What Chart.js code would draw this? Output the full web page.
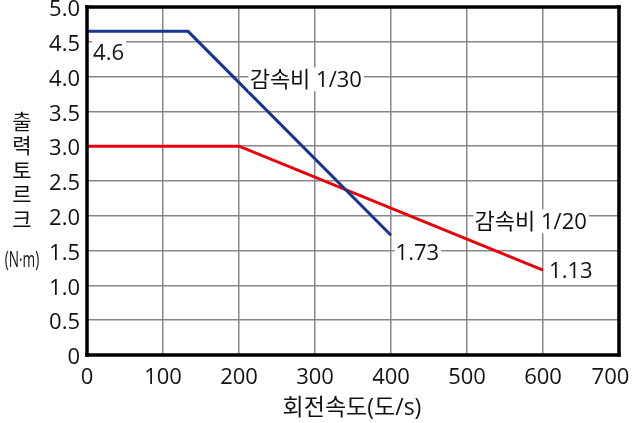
<!DOCTYPE html>
<html>
<head>
<meta charset="utf-8">
<script src="https://cdn.jsdelivr.net/npm/chart.js@4"></script>
<style>
  html, body { margin: 0; padding: 0; background: #fff; }
  #wrap { width: 634px; height: 423px; }
</style>
</head>
<body>
<div id="wrap"><canvas id="chart" width="634" height="423"></canvas></div>
<script>
// Data
const ratio30Speed = [0, 133, 400];
const ratio30Torque = [4.65, 4.65, 1.72];
const ratio20Speed = [0, 200, 600];
const ratio20Torque = [3.0, 3.0, 1.22];

const yTitleChars = ["출", "력", "토", "르", "크"];
const yTitleUnit = "(N·m)";
const xTitle = "회전속도(도/s)";

// text labels: [text, x value, y value]
const notes = [
    ["4.6", 8, 4.35],
    ["감속비 1/30", 214, 3.96],
    ["1.73", 406, 1.47],
    ["감속비 1/20", 510, 1.92],
    ["1.13", 608, 1.21]
];

const FONT = "'Open Sans', 'Noto Sans CJK KR', sans-serif";

const toPoints = (xs, ys) => xs.map((x, i) => ({ x: x, y: ys[i] }));

// Frame, axis title and labels
const decor = {
    id: "decor",
    afterDraw(chart) {
        const { ctx, scales } = chart;
        const x0 = scales.x.getPixelForValue(scales.x.min);
        const x1 = scales.x.getPixelForValue(scales.x.max);
        const y0 = scales.y.getPixelForValue(scales.y.max);
        const y1 = scales.y.getPixelForValue(scales.y.min);
        ctx.save();
        const t = 3.5;
        ctx.fillStyle = "#000";
        ctx.fillRect(x0 - t / 2, y0 - t / 2, x1 - x0 + t, t);
        ctx.fillRect(x0 - t / 2, y1 - t / 2, x1 - x0 + t, t);
        ctx.fillRect(x0 - t / 2, y0 - t / 2, t, y1 - y0 + t);
        ctx.fillRect(x1 - t / 2, y0 - t / 2, t, y1 - y0 + t);

        ctx.font = "22px " + FONT;
        ctx.textBaseline = "middle";
        notes.forEach(([text, xv, yv]) => {
            const px = scales.x.getPixelForValue(xv);
            const py = scales.y.getPixelForValue(yv);
            const w = ctx.measureText(text).width;
            ctx.fillStyle = "#fff";
            ctx.fillRect(px - 1, py - 12, w + 3, 24);
            ctx.fillStyle = "#111";
            ctx.textAlign = "left";
            ctx.fillText(text, px, py + 1);
        });

        // vertical y title, upright characters
        ctx.textAlign = "center";
        ctx.fillStyle = "#111";
        ctx.font = "21px " + FONT;
        yTitleChars.forEach((c, i) => {
            ctx.fillText(c, 22, 123 + i * 24.5);
        });
        ctx.save();
        ctx.translate(22, 261);
        ctx.scale(0.62, 1);
        ctx.font = "22px " + FONT;
        ctx.fillText(yTitleUnit, 0, 0);
        ctx.restore();

        ctx.font = "23px " + FONT;
        ctx.fillText(xTitle, 352, 408);
        ctx.restore();
    }
};

new Chart(document.getElementById("chart"), {
    type: "line",
    data: {
        datasets: [
            {
                data: toPoints(ratio30Speed, ratio30Torque),
                borderColor: "#163690",
                borderWidth: 3,
                pointRadius: 0,
                tension: 0
            },
            {
                data: toPoints(ratio20Speed, ratio20Torque),
                borderColor: "#e8000b",
                borderWidth: 3,
                pointRadius: 0,
                tension: 0
            }
        ]
    },
    options: {
        responsive: false,
        animation: false,
        layout: { padding: { top: 7, right: 15, left: 0, bottom: 0 } },
        plugins: { legend: { display: false }, tooltip: { enabled: false } },
        scales: {
            x: {
                type: "linear",
                min: 0,
                max: 700,
                ticks: {
                    stepSize: 100,
                    color: "#111",
                    font: { family: FONT, size: 22 },
                    padding: 10,
                    maxRotation: 0,
                    // last label sits a little left of its grid line
                    callback: (v) => (v === 700 ? v + "   " : String(v))
                },
                grid: { color: "#888", lineWidth: 1.5, drawTicks: false },
                border: { display: false },
                afterFit(s) {
                    s.height = 68;
                    s.paddingLeft = 0;
                    s.paddingRight = 0;
                }
            },
            y: {
                min: 0,
                max: 5,
                ticks: {
                    stepSize: 0.5,
                    color: "#111",
                    font: { family: FONT, size: 22 },
                    padding: 7,
                    labelOffset: 3,
                    callback: (v) => (v === 0 ? "0" : v.toFixed(1))
                },
                grid: { color: "#888", lineWidth: 1.5, drawTicks: false },
                border: { display: false },
                afterFit(s) {
                    s.width = 87;
                    s.paddingTop = 0;
                    s.paddingBottom = 0;
                }
            }
        }
    },
    plugins: [decor]
});
</script>
</body>
</html>
